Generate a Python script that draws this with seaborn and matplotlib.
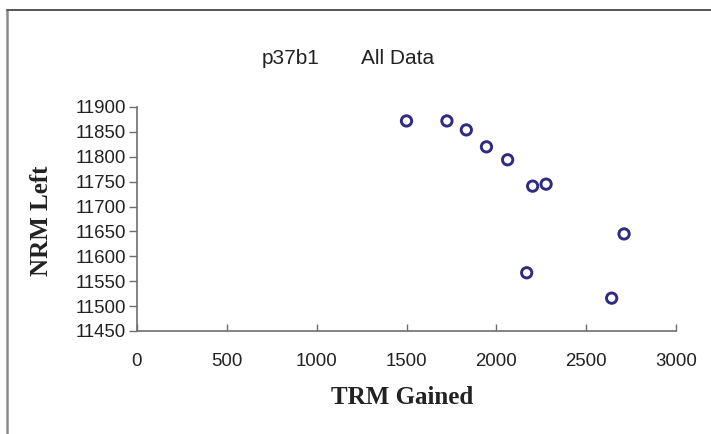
import matplotlib
matplotlib.use("Agg")
import matplotlib.pyplot as plt
from matplotlib.lines import Line2D
import seaborn as sns
import pandas as pd

# Measurements: TRM gained vs NRM remaining
trm_gained = [1500, 1725, 1833, 1945, 2063, 2202, 2277, 2169, 2642, 2711]
nrm_left = [11872, 11872, 11854, 11820, 11794, 11741, 11745, 11567, 11516, 11645]

x_ticks = [0, 500, 1000, 1500, 2000, 2500, 3000]
y_ticks = [11450, 11500, 11550, 11600, 11650, 11700, 11750, 11800, 11850, 11900]

df = pd.DataFrame({"TRM Gained": trm_gained, "NRM Left": nrm_left})

sns.set_style("white")
plt.rcParams["font.family"] = ["Liberation Sans", "DejaVu Sans"]

fig = plt.figure(figsize=(7.11, 4.34), dpi=100)
W, H = 711, 434
left, right, top, bottom = 137, 676, 107, 331
ax = fig.add_axes([left / W, 1 - bottom / H, (right - left) / W, (bottom - top) / H])

mark = "#2F2B80"
sns.scatterplot(data=df, x="TRM Gained", y="NRM Left", ax=ax,
                marker="o", s=55, color=mark, legend=False, clip_on=False)
# hollow circles
for coll in ax.collections:
    coll.set_facecolor("none")
    coll.set_edgecolor(mark)
    coll.set_linewidth(2.1)

ax.set_xlim(0, 3000)
ax.set_ylim(11450, 11900)
ax.set_xticks(x_ticks)
ax.set_yticks(y_ticks)
ax.set_xticklabels([str(v) for v in x_ticks])
ax.set_yticklabels([str(v) for v in y_ticks])
ax.set_xlabel("")
ax.set_ylabel("")

for side in ["top", "right"]:
    ax.spines[side].set_visible(False)
for side in ["left", "bottom"]:
    ax.spines[side].set_color("#6E6E6E")
    ax.spines[side].set_linewidth(1.2)

ax.tick_params(axis="y", direction="out", length=6, width=1.0, color="#6E6E6E",
               labelsize=13.4, labelcolor="#222222", pad=2, left=True)
ax.tick_params(axis="x", direction="in", length=5, width=1.0, color="#6E6E6E",
               labelsize=13.4, labelcolor="#222222", pad=16, bottom=True)

fig.text(262 / W, 1 - 59 / H, "p37b1", ha="left", va="center",
         fontsize=15, color="#222222")
fig.text(361 / W, 1 - 59 / H, "All Data", ha="left", va="center",
         fontsize=15, color="#222222")
fig.text(402 / W, 1 - 397 / H, "TRM Gained", ha="center", va="center",
         fontsize=18, fontweight="bold", family=["Liberation Serif", "DejaVu Serif"],
         color="#222222")
fig.text(41 / W, 1 - 221 / H, "NRM Left", ha="center", va="center", rotation=90,
         fontsize=18, fontweight="bold", family=["Liberation Serif", "DejaVu Serif"],
         color="#222222")

# outer chart frame (left and top edges)
fig.add_artist(Line2D([7 / W, 7 / W], [0, 1 - 10 / H], transform=fig.transFigure,
                      color="#8A8A8A", linewidth=1.8))
fig.add_artist(Line2D([7 / W, 1], [1 - 10 / H, 1 - 10 / H], transform=fig.transFigure,
                      color="#555555", linewidth=1.4))

fig.savefig("out.png", dpi=100)
